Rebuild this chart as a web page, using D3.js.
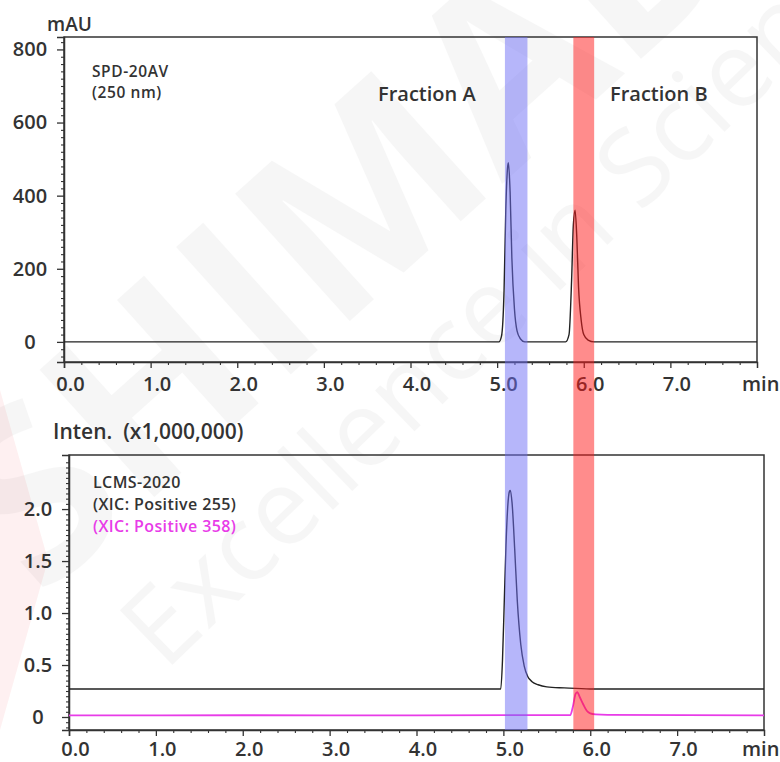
<!DOCTYPE html>
<html>
<head>
<meta charset="utf-8">
<script src="https://cdn.jsdelivr.net/npm/d3@7"></script>
<style>
  html, body { margin: 0; padding: 0; background: #fff; }
  svg { display: block; }
  text { font-family: "Open Sans", "Noto Sans", sans-serif; }
</style>
</head>
<body>
<svg id="chart" width="780" height="762"></svg>
<script>
// ---- data -------------------------------------------------------------
// UV trace (SPD-20AV, 250 nm): retention time (min) and absorbance (mAU)
const uvTime = [0, 5.02, 5.05, 5.08, 5.10, 5.12, 5.13, 5.15, 5.17, 5.20, 5.23, 5.27, 5.32,
                5.79, 5.83, 5.86, 5.88, 5.90, 5.92, 5.94, 5.97, 6.00, 6.05, 6.12, 8.0];
const uvAbs  = [0, 0, 15, 140, 360, 475, 490, 410, 230, 90, 30, 8, 0,
                0, 20, 170, 320, 360, 285, 150, 60, 20, 5, 0, 0];

// MS trace, XIC m/z 255 (x1,000,000)
const xic255Time = [0, 4.97, 4.99, 5.01, 5.03, 5.05, 5.07, 5.08, 5.10, 5.13, 5.16, 5.20,
                    5.24, 5.28, 5.33, 5.40, 5.50, 5.70, 6.00, 8.0];
const xic255Int  = [0.27, 0.27, 0.55, 1.10, 1.65, 2.02, 2.17, 2.18, 2.06, 1.62, 1.12, 0.70,
                    0.49, 0.39, 0.34, 0.31, 0.29, 0.28, 0.27, 0.27];

// MS trace, XIC m/z 358 (x1,000,000)
const xic358Time = [0, 2.0, 4.0, 5.77, 5.80, 5.83, 5.85, 5.88, 5.92, 5.96, 6.00, 6.06, 6.20, 8.0];
const xic358Int  = [0.015, 0.017, 0.016, 0.018, 0.10, 0.22, 0.24, 0.19, 0.12, 0.06, 0.035, 0.025, 0.02, 0.015];

// collected fractions (time window, min, on the UV time axis)
const fractionNames = ["Fraction A", "Fraction B"];
const fractionStart = [5.09, 5.88];
const fractionEnd   = [5.35, 6.12];
const fractionColors = ["#6e6ef5", "#ff1a1a"];

// axis ticks
const timeTicks = [0, 1, 2, 3, 4, 5, 6, 7];
const uvTicks   = [0, 200, 400, 600, 800];
const msTicks   = [0, 0.5, 1.0, 1.5, 2.0];

// ---- layout -----------------------------------------------------------
const svg = d3.select("#chart");
const ink = "#333";
const traceInk = "#222";

// faint background branding
const wm = svg.append("g").attr("pointer-events", "none");
wm.append("path")
  .attr("d", "M0,390 L48,560 L0,730 Z")
  .attr("fill", "#e60012").attr("opacity", 0.06);
wm.append("text")
  .attr("transform", "translate(40,600) rotate(-42)")
  .attr("font-size", 240).attr("font-weight", 700)
  .attr("fill", "#000").attr("opacity", 0.03)
  .text("SHIMADZU");
wm.append("text")
  .attr("transform", "translate(165,672) rotate(-44)")
  .attr("font-size", 106).attr("font-weight", 400)
  .attr("fill", "#000").attr("opacity", 0.03)
  .text("Excellence in Science");

// scales
const xUV = d3.scaleLinear().domain([0, 8]).range([64, 757]);
const yUV = d3.scaleLinear().domain([-55, 834]).range([362, 37]);
const xMS = d3.scaleLinear().domain([0, 8]).range([69, 764]);
const yMS = d3.scaleLinear().domain([-0.125, 2.52]).range([730, 455]);

function frame(x, y) {
  svg.append("rect")
    .attr("x", x.range()[0]).attr("y", y.range()[1])
    .attr("width", x.range()[1] - x.range()[0])
    .attr("height", y.range()[0] - y.range()[1])
    .attr("fill", "none").attr("stroke", ink).attr("stroke-width", 1.5);
}

function styleAxis(g) {
  g.select(".domain").attr("stroke", ink).attr("stroke-width", 1.5);
  g.selectAll(".tick line").attr("stroke", ink).attr("stroke-width", 1.3);
  g.selectAll(".tick text")
    .attr("fill", ink).attr("font-size", 20).attr("font-weight", 600);
}

function minorTicks(axisGen, values, size, transform) {
  const g = svg.append("g").attr("transform", transform)
    .call(axisGen.tickValues(values).tickSize(size).tickFormat(""));
  g.select(".domain").remove();
  g.selectAll(".tick line").attr("stroke", ink).attr("stroke-width", 1.1);
}

function timeAxis(x, y, pad) {
  const base = y.range()[0];
  minorTicks(d3.axisBottom(x), d3.range(0, 8.0001, 0.2).filter(v => Math.abs(v - Math.round(v)) > 1e-6), 3,
             `translate(0,${base})`);
  const g = svg.append("g").attr("transform", `translate(0,${base})`)
    .call(d3.axisBottom(x).tickValues(timeTicks).tickSize(6).tickPadding(pad).tickFormat(d3.format(".1f")));
  styleAxis(g);
  g.selectAll(".tick text").attr("dx", 6);
  svg.append("text")
    .attr("x", 742).attr("y", base + pad + 20)
    .attr("fill", ink).attr("font-size", 20).attr("font-weight", 600)
    .text("min");
}

function valueAxis(x, y, ticks, fmt, labelCenter) {
  const left = x.range()[0];
  const g = svg.append("g").attr("transform", `translate(${left},0)`)
    .call(d3.axisLeft(y).tickValues(ticks).tickSize(7).tickFormat(fmt));
  styleAxis(g);
  // labels sit centred in the left margin
  g.selectAll(".tick text").attr("text-anchor", "middle").attr("x", labelCenter - left);
}

// ---- UV panel ---------------------------------------------------------
frame(xUV, yUV);
minorTicks(d3.axisLeft(yUV), d3.range(-40, 821, 20).filter(v => v % 200 !== 0), 3, `translate(${xUV.range()[0]},0)`);
valueAxis(xUV, yUV, uvTicks, d3.format("d"), 30);
timeAxis(xUV, yUV, 9);

svg.append("text").attr("x", 47).attr("y", 31)
  .attr("fill", ink).attr("font-size", 19).attr("font-weight", 600).text("mAU");

svg.append("text").attr("x", 92).attr("y", 77)
  .attr("fill", ink).attr("font-size", 15.5).attr("font-weight", 600)
  .attr("letter-spacing", 0.6).text("SPD-20AV");
svg.append("text").attr("x", 92).attr("y", 98)
  .attr("fill", ink).attr("font-size", 15.5).attr("font-weight", 600)
  .attr("letter-spacing", 0.6).text("(250 nm)");

const uvLine = d3.line().x((d, i) => xUV(uvTime[i])).y(d => yUV(d)).curve(d3.curveMonotoneX);
svg.append("path").attr("d", uvLine(uvAbs))
  .attr("fill", "none").attr("stroke", traceInk).attr("stroke-width", 1.4);

// fraction labels
const fracLabelX = [378, 610];
fractionNames.forEach((name, i) => {
  svg.append("text").attr("x", fracLabelX[i]).attr("y", 101)
    .attr("fill", ink).attr("font-size", 20).attr("font-weight", 600).text(name);
});

// ---- MS panel ---------------------------------------------------------
frame(xMS, yMS);
minorTicks(d3.axisLeft(yMS), d3.range(-0.1, 2.501, 0.05).filter(v => Math.abs(v * 2 - Math.round(v * 2)) > 1e-6), 3,
           `translate(${xMS.range()[0]},0)`);
valueAxis(xMS, yMS, msTicks, d => d === 0 ? "0" : d3.format(".1f")(d), 38);
timeAxis(xMS, yMS, 6);

svg.append("text").attr("x", 53).attr("y", 439)
  .attr("fill", ink).attr("font-size", 21).attr("font-weight", 600)
  .attr("xml:space", "preserve").text("Inten.  (x1,000,000)");

const msLabels = ["LCMS-2020", "(XIC: Positive 255)", "(XIC: Positive 358)"];
const msLabelColors = [ink, ink, "#e83ce8"];
msLabels.forEach((t, i) => {
  svg.append("text").attr("x", 93).attr("y", 488 + i * 22)
    .attr("fill", msLabelColors[i]).attr("font-size", 16).attr("font-weight", 600)
    .attr("letter-spacing", 0.4).text(t);
});

const line255 = d3.line().x((d, i) => xMS(xic255Time[i])).y(d => yMS(d)).curve(d3.curveMonotoneX);
const line358 = d3.line().x((d, i) => xMS(xic358Time[i])).y(d => yMS(d)).curve(d3.curveMonotoneX);
svg.append("path").attr("d", line358(xic358Int))
  .attr("fill", "none").attr("stroke", "#e83ce8").attr("stroke-width", 1.8);
svg.append("path").attr("d", line255(xic255Int))
  .attr("fill", "none").attr("stroke", traceInk).attr("stroke-width", 1.4);

// ---- fraction windows spanning both panels ---------------------------
fractionNames.forEach((name, i) => {
  svg.append("rect")
    .attr("x", xUV(fractionStart[i]))
    .attr("width", xUV(fractionEnd[i]) - xUV(fractionStart[i]))
    .attr("y", yUV.range()[1])
    .attr("height", yMS.range()[0] - yUV.range()[1])
    .attr("fill", fractionColors[i]).attr("opacity", 0.5);
});
</script>
</body>
</html>
